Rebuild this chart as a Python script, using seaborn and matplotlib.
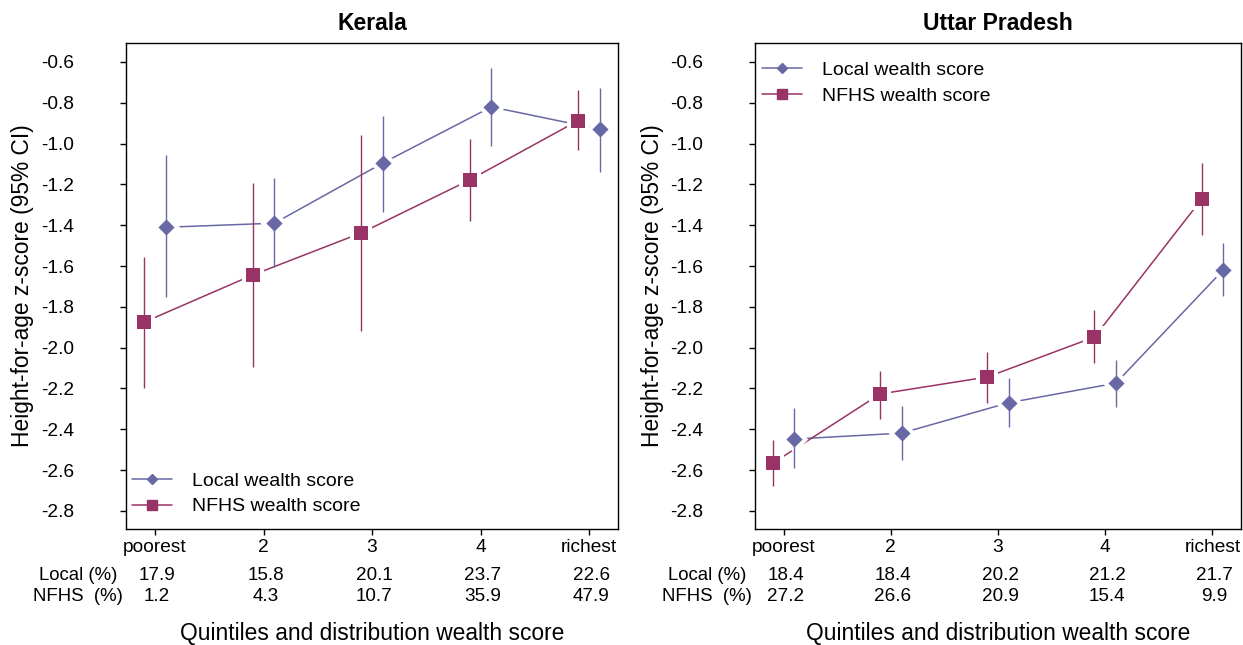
import matplotlib
matplotlib.use('Agg')
import matplotlib.pyplot as plt
from matplotlib.lines import Line2D
from matplotlib.ticker import FormatStrFormatter
import seaborn as sns
import pandas as pd

quintiles = ['poorest', '2', '3', '4', 'richest']
y_ticks = [-0.6, -0.8, -1.0, -1.2, -1.4, -1.6, -1.8, -2.0, -2.2, -2.4, -2.6, -2.8]

# Kerala: mean height-for-age z-score and 95% CI
kerala_local = [-1.41, -1.39, -1.095, -0.82, -0.93]
kerala_local_lo = [-1.75, -1.605, -1.335, -1.01, -1.14]
kerala_local_hi = [-1.056, -1.169, -0.865, -0.63, -0.727]
kerala_nfhs = [-1.875, -1.644, -1.438, -1.178, -0.887]
kerala_nfhs_lo = [-2.198, -2.095, -1.92, -1.38, -1.031]
kerala_nfhs_hi = [-1.555, -1.193, -0.958, -0.977, -0.737]
kerala_local_pct = ['17.9', '15.8', '20.1', '23.7', '22.6']
kerala_nfhs_pct = ['1.2', '4.3', '10.7', '35.9', '47.9']

# Uttar Pradesh
up_local = [-2.448, -2.419, -2.27, -2.174, -1.62]
up_local_lo = [-2.59, -2.551, -2.39, -2.29, -1.747]
up_local_hi = [-2.296, -2.286, -2.149, -2.06, -1.487]
up_nfhs = [-2.566, -2.227, -2.144, -1.948, -1.272]
up_nfhs_lo = [-2.678, -2.35, -2.27, -2.075, -1.448]
up_nfhs_hi = [-2.453, -2.115, -2.02, -1.816, -1.095]
up_local_pct = ['18.4', '18.4', '20.2', '21.2', '21.7']
up_nfhs_pct = ['27.2', '26.6', '20.9', '15.4', '9.9']

LOCAL = 'Local wealth score'
NFHS = 'NFHS wealth score'
colors = {LOCAL: '#6868a4', NFHS: '#993366'}
markers = {LOCAL: 'D', NFHS: 's'}
offsets = {LOCAL: 0.1, NFHS: -0.1}
marker_s = {LOCAL: 68, NFHS: 88}
halo_s = {LOCAL: 200, NFHS: 240}

sns.set_style('ticks')
plt.rcParams['font.family'] = ['Liberation Sans', 'DejaVu Sans']
plt.rcParams['axes.unicode_minus'] = False
for key in ['text.color', 'axes.labelcolor', 'xtick.color', 'ytick.color']:
    plt.rcParams[key] = 'black'


def make_df(local, local_lo, local_hi, nfhs, nfhs_lo, nfhs_hi):
    parts = []
    for name, z, lo, hi in [(LOCAL, local, local_lo, local_hi),
                            (NFHS, nfhs, nfhs_lo, nfhs_hi)]:
        parts.append(pd.DataFrame({
            'q': range(1, len(quintiles) + 1),
            'z': z, 'lo': lo, 'hi': hi, 'score': name}))
    df = pd.concat(parts, ignore_index=True)
    df['x'] = df['q'] + df['score'].map(offsets)
    return df


def draw(ax, df, title, local_pct, nfhs_pct, leg_loc, leg_anchor):
    sns.lineplot(data=df, x='x', y='z', hue='score', palette=colors,
                 estimator=None, lw=1.1, legend=False, ax=ax, zorder=2)
    for name, g in df.groupby('score'):
        # white halo leaves a small gap between the connecting line and the marker
        sns.scatterplot(data=g, x='x', y='z', marker=markers[name], color='white',
                        s=halo_s[name], linewidth=0, ax=ax, zorder=3, legend=False)
        ax.vlines(g['x'], g['lo'], g['hi'], color=colors[name], lw=1.0, zorder=4)
        sns.scatterplot(data=g, x='x', y='z', marker=markers[name], color=colors[name],
                        s=marker_s[name], linewidth=0, ax=ax, zorder=5, legend=False)

    ax.set_xlim(0.733, 5.267)
    ax.set_ylim(-2.889, -0.507)
    ax.set_xticks(range(1, len(quintiles) + 1))
    ax.set_xticklabels(quintiles)
    ax.set_yticks(y_ticks)
    ax.yaxis.set_major_formatter(FormatStrFormatter('%.1f'))
    ax.tick_params(axis='y', labelsize=13.8, pad=33, length=4.5, width=1, color='black')
    ax.tick_params(axis='x', labelsize=13.8, pad=3, length=4.5, width=1, color='black')
    for sp in ax.spines.values():
        sp.set_visible(True)
        sp.set_color('black')
        sp.set_linewidth(1.0)

    ax.set_title(title, fontsize=16.5, fontweight='bold', pad=9.5)
    ax.set_xlabel('Quintiles and distribution wealth score', fontsize=16.4)
    ax.xaxis.set_label_coords(0.5, -0.214)
    ax.xaxis.label.set_va('center')
    ax.set_ylabel('Height-for-age z-score (95% CI)', fontsize=16.4)
    ax.yaxis.set_label_coords(-0.21, 0.5)
    ax.yaxis.label.set_va('center')

    # distribution table under the axis
    for label, vals, dy in [('Local (%)', local_pct, -33.5), ('NFHS  (%)', nfhs_pct, -48.8)]:
        ax.annotate(label, xy=(0, 0), xycoords='axes fraction', xytext=(-34.5, dy),
                    textcoords='offset points', ha='center', va='center', fontsize=13.4)
        for i, v in enumerate(vals):
            ax.annotate(v, xy=(i + 1, 0), xycoords=('data', 'axes fraction'),
                        xytext=(1.5, dy), textcoords='offset points',
                        ha='center', va='center', fontsize=13.6)

    handles = [Line2D([], [], color=colors[LOCAL], lw=1.1, marker='D', markersize=5.6),
               Line2D([], [], color=colors[NFHS], lw=1.1, marker='s', markersize=7.2)]
    ax.legend(handles, [LOCAL, NFHS], loc=leg_loc, bbox_to_anchor=leg_anchor,
              frameon=False, fontsize=14, handlelength=2.06, handletextpad=1.03,
              labelspacing=0.42, borderpad=0, borderaxespad=0)


fig = plt.figure(figsize=(12.43, 6.45), dpi=100)
ax1 = fig.add_axes([0.1014, 0.1798, 0.3958, 0.7535])
ax2 = fig.add_axes([0.6074, 0.1798, 0.3910, 0.7535])

kerala = make_df(kerala_local, kerala_local_lo, kerala_local_hi,
                 kerala_nfhs, kerala_nfhs_lo, kerala_nfhs_hi)
up = make_df(up_local, up_local_lo, up_local_hi, up_nfhs, up_nfhs_lo, up_nfhs_hi)

draw(ax1, kerala, 'Kerala', kerala_local_pct, kerala_nfhs_pct, 'lower left', (0.012, 0.028))
draw(ax2, up, 'Uttar Pradesh', up_local_pct, up_nfhs_pct, 'upper left', (0.0144, 0.962))

fig.savefig('out.png', dpi=100)
